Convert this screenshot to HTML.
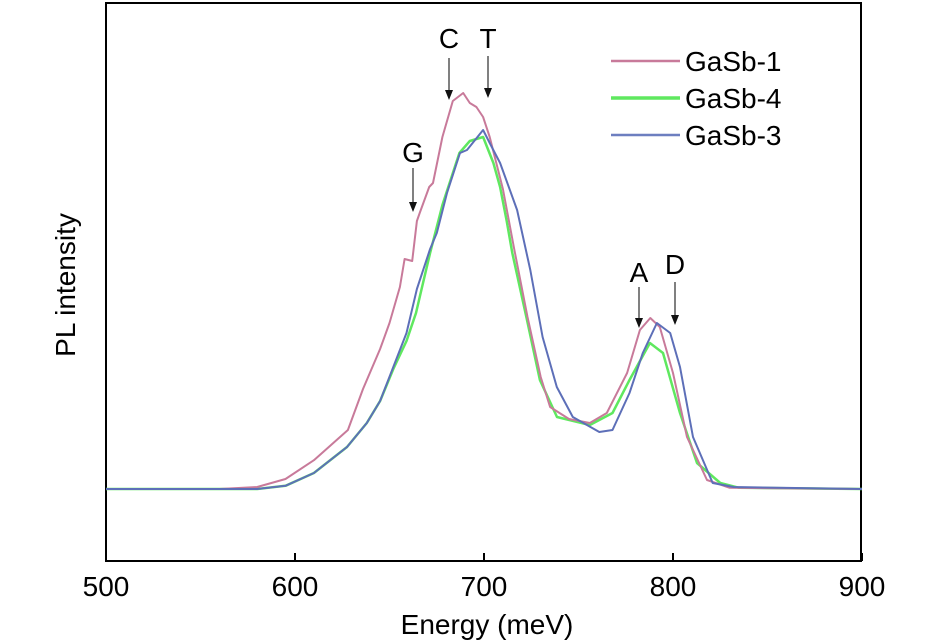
<!DOCTYPE html>
<html><head><meta charset="utf-8"><style>
body{margin:0;background:#fff}
svg{display:block;font-family:"Liberation Sans",sans-serif}
</style></head><body>
<svg id="chart" width="945" height="643">
<rect x="106" y="3" width="755" height="558" fill="none" stroke="#000" stroke-width="2"/>
<g id="ticks"></g>
<g id="series"></g>
<text x="75" y="285" font-size="28" text-anchor="middle" transform="rotate(-90 75 285)">PL intensity</text>
<text x="487" y="634" font-size="28" text-anchor="middle">Energy (meV)</text>
<g font-size="28">
<line x1="611" y1="61" x2="680" y2="61" stroke="#c87a9a" stroke-width="2.5"/>
<text x="685" y="71">GaSb-1</text>
<line x1="611" y1="98" x2="680" y2="98" stroke="#5fe85f" stroke-width="3.5"/>
<text x="685" y="108">GaSb-4</text>
<line x1="611" y1="135" x2="680" y2="135" stroke="#6d7fc0" stroke-width="2.5"/>
<text x="685" y="145">GaSb-3</text>
</g>
<g id="annot" font-size="28" text-anchor="middle"></g>
</svg>
<script>
const xTicks=[500,600,700,800,900];
const e1=[500,560,580,595,610,628,636,645,650,655.5,658,662,664.5,666,671,673,678,683.5,689,692.5,696,699.5,703,710,716,723,730,735,745,756,765,775.7,782.5,788,793,800,807.4,818,830,900];
const v1=[0,0,0.5,2.5,7.2,14.75,25,35,41.5,50.5,57.5,57,67,69,75.5,76.5,88,97,99,96.5,95.5,93,88,75,60,43,28,20.5,17.5,16.5,19,29,39.75,42.75,40.5,29,13,2.25,0.3,0];
const e4=[500,580,595,610,627.5,638,645,652,659,664,667,671.5,678,687,692.5,699.5,705,708.5,712,715,722.75,729.6,738.6,756,768,777,787.8,794.7,803.7,812.7,825,835,900];
const v4=[0,0,0.8,4,10.5,16.5,22,30,37,44,50,59,71,84,87,88,81.5,75.5,67,59,42.25,27.25,18,16,19,27.25,36.5,34,19,6.5,1.5,0.3,0];
const e3=[500,580,595,610,627.5,638,645,652,659,664.5,671.5,675,680.4,687.3,691,699.5,703,708.5,717.5,724.5,731,738.5,747,761,768,777,784,791.5,798.5,803.7,810.6,821,832,900];
const v3=[0,0,0.8,4,10.5,16.5,22,30.5,39,50,60,64,74,84,84.75,89.75,86.5,81.5,69.75,54.75,38,25.5,18,14.25,14.75,24,34,41.5,39,30.5,13,1.5,0.5,0];
const xS=e=>106+(e-500)*1.89;
const yS=v=>489-v*4;
const NS="http://www.w3.org/2000/svg";
const tg=document.getElementById('ticks');
xTicks.forEach(t=>{
 const l=document.createElementNS(NS,'line');
 l.setAttribute('x1',xS(t));l.setAttribute('x2',xS(t));l.setAttribute('y1',561);l.setAttribute('y2',553);l.setAttribute('stroke','#000');l.setAttribute('stroke-width',2);
 
 
 tg.appendChild(l);
 const tx=document.createElementNS(NS,'text');
 tx.setAttribute('x',xS(t));tx.setAttribute('y',596);tx.setAttribute('font-size',28);tx.setAttribute('text-anchor','middle');tx.textContent=t;
 
 
 tg.appendChild(tx);
});
const sg=document.getElementById('series');
function line(es,vs,color,w,name){
 const p=document.createElementNS(NS,'path');
 p.setAttribute('d',es.map((e,i)=>(i?'L':'M')+xS(e).toFixed(1)+','+yS(vs[i]).toFixed(1)).join(''));
 p.setAttribute('fill','none');p.setAttribute('stroke',color);p.setAttribute('stroke-width',w);p.setAttribute('stroke-linejoin','round');
 
 
 sg.appendChild(p);
}
line(e4,v4,'#5fe85f',2.5,'series-gasb-4');
line(e1,v1,'#c87a9a',2,'series-gasb-1');
line(e3,v3,'#5d6fb8',2,'series-gasb-3');
const ag=document.getElementById('annot');
[['C',449,48,58,100],['T',488,48,56,98],['G',413,162,168,212],['A',639,282,287,328],['D',675,274,282,325]].forEach(a=>{
 const t=document.createElementNS(NS,'text');t.setAttribute('x',a[1]);t.setAttribute('y',a[2]);t.textContent=a[0];
 
 
 ag.appendChild(t);
 const l=document.createElementNS(NS,'line');l.setAttribute('x1',a[1]);l.setAttribute('x2',a[1]);l.setAttribute('y1',a[3]);l.setAttribute('y2',a[4]-8);l.setAttribute('stroke','#555');l.setAttribute('stroke-width',1.5);
 
 
 ag.appendChild(l);
 const h=document.createElementNS(NS,'polygon');h.setAttribute('points',`${a[1]-4},${a[4]-10} ${a[1]+4},${a[4]-10} ${a[1]},${a[4]}`);h.setAttribute('fill','#111');
 
 
 ag.appendChild(h);
});
</script>
</body></html>
